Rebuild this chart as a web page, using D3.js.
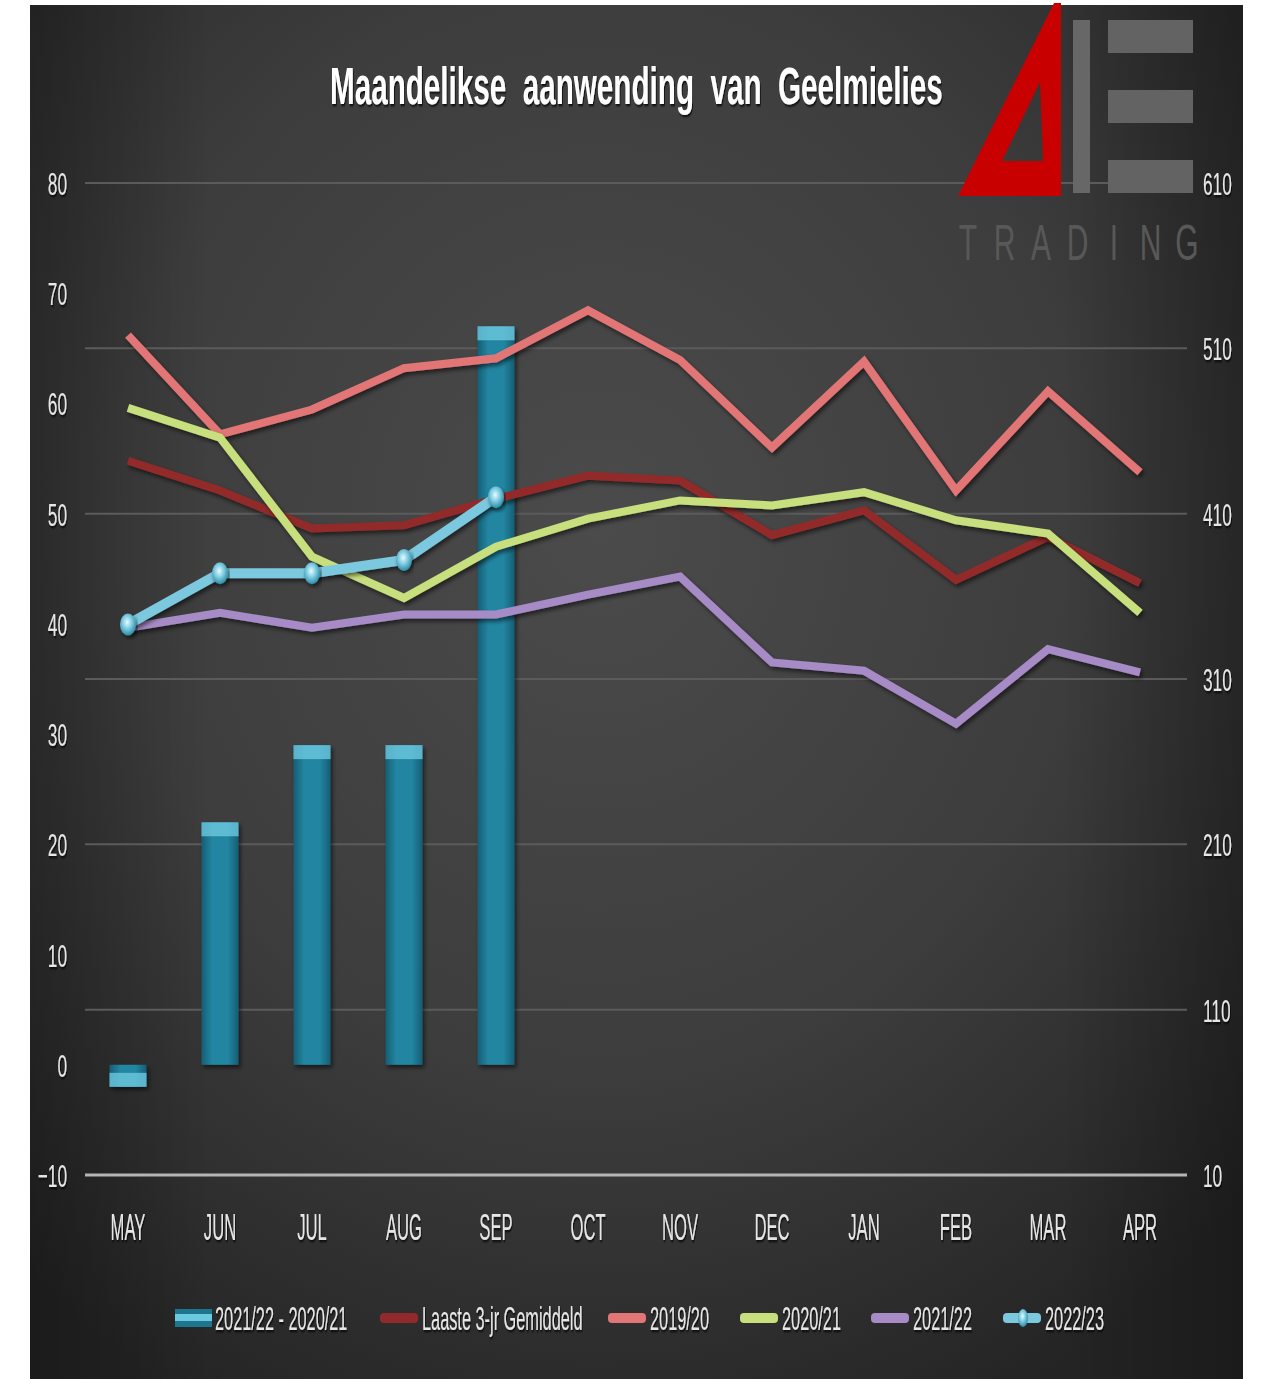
<!DOCTYPE html>
<html>
<head>
<meta charset="utf-8">
<script src="https://d3js.org/d3.v7.min.js"></script>
<style>
  body { margin: 0; background: #fff; }
  text { font-family: "Liberation Sans", Arial, sans-serif; }
</style>
</head>
<body>
<svg id="chart" width="1264" height="1379"></svg>
<script>
// months on the x axis
var months = ["MAY","JUN","JUL","AUG","SEP","OCT","NOV","DEC","JAN","FEB","MAR","APR"];

// bars, left axis
var diffLabel = "2021/22 - 2020/21";
var diffValues = [-2, 22, 29, 29, 67];

// lines, right axis
var avg3 = [442, 424, 401, 403, 419, 433, 430, 397, 412, 370, 396, 368];
var s1920 = [518, 458, 473, 498, 504, 533, 503, 450, 502, 424, 484, 435];
var s2021 = [474, 456, 384, 359, 390, 407, 418, 415, 423, 406, 398, 350];
var s2122 = [341, 350, 341, 349, 349, 361, 372, 320, 315, 283, 328, 314];
var s2223 = [343, 374, 374, 382, 420];

var leftTicks = [-10, 0, 10, 20, 30, 40, 50, 60, 70, 80];
var rightTicks = [10, 110, 210, 310, 410, 510, 610];

var series = [
  {name: "Laaste 3-jr Gemiddeld", values: avg3, color: "#922a2c"},
  {name: "2019/20", values: s1920, color: "#e27676"},
  {name: "2020/21", values: s2021, color: "#c8df7e"},
  {name: "2021/22", values: s2122, color: "#a78bc6"},
  {name: "2022/23", values: s2223, color: "#7cc8de", markers: true}
];

var svg = d3.select("#chart");
var defs = svg.append("defs");

var bg = defs.append("radialGradient").attr("id", "bg")
  .attr("cx", 0.47).attr("cy", 0.38).attr("r", 0.72);
bg.append("stop").attr("offset", 0).attr("stop-color", "#4b4b4b");
bg.append("stop").attr("offset", 0.55).attr("stop-color", "#3d3d3d");
bg.append("stop").attr("offset", 1).attr("stop-color", "#242424");

var bgH = defs.append("linearGradient").attr("id", "bgH");
bgH.append("stop").attr("offset", 0).attr("stop-color", "#000").attr("stop-opacity", 0.25);
bgH.append("stop").attr("offset", 0.15).attr("stop-color", "#000").attr("stop-opacity", 0);
bgH.append("stop").attr("offset", 0.85).attr("stop-color", "#000").attr("stop-opacity", 0);
bgH.append("stop").attr("offset", 1).attr("stop-color", "#000").attr("stop-opacity", 0.25);

var barGrad = defs.append("linearGradient").attr("id", "barGrad");
barGrad.append("stop").attr("offset", 0).attr("stop-color", "#155e74");
barGrad.append("stop").attr("offset", 0.3).attr("stop-color", "#2386a2");
barGrad.append("stop").attr("offset", 0.7).attr("stop-color", "#2386a2");
barGrad.append("stop").attr("offset", 1).attr("stop-color", "#155e74");

var ball = defs.append("radialGradient").attr("id", "ball")
  .attr("cx", 0.45).attr("cy", 0.4).attr("r", 0.6);
ball.append("stop").attr("offset", 0).attr("stop-color", "#e6fbff");
ball.append("stop").attr("offset", 0.5).attr("stop-color", "#7ccbe0");
ball.append("stop").attr("offset", 1).attr("stop-color", "#2f8aa5");

var sh = defs.append("filter").attr("id", "shadow").attr("x", -0.1).attr("y", -0.1).attr("width", 1.2).attr("height", 1.3);
sh.append("feDropShadow").attr("dx", 2).attr("dy", 3).attr("stdDeviation", 2)
  .attr("flood-color", "#000").attr("flood-opacity", 0.55);

var tsh = defs.append("filter").attr("id", "tshadow").attr("x", -0.1).attr("y", -0.2).attr("width", 1.2).attr("height", 1.5);
tsh.append("feDropShadow").attr("dx", 1.5).attr("dy", 2).attr("stdDeviation", 1)
  .attr("flood-color", "#000").attr("flood-opacity", 0.8);

// background panel
svg.append("rect").attr("x", 30).attr("y", 5).attr("width", 1213).attr("height", 1374).attr("fill", "url(#bg)");
svg.append("rect").attr("x", 30).attr("y", 5).attr("width", 1213).attr("height", 1374).attr("fill", "url(#bgH)");

// scales
var x = d3.scaleBand().domain(months).range([82, 1186]);
var yL = d3.scaleLinear().domain([-10, 80]).range([1175, 183]);
var yR = d3.scaleLinear().domain([10, 610]).range([1175, 183]);
var cx = function(m) { return x(m) + x.bandwidth() / 2; };

// gridlines
svg.append("g").selectAll("line")
  .data(rightTicks)
  .join("line")
    .attr("x1", 85).attr("x2", 1187)
    .attr("y1", d => yR(d)).attr("y2", d => yR(d))
    .attr("stroke", d => d === 10 ? "#b5b5b5" : "#5b5b5b")
    .attr("stroke-width", d => d === 10 ? 3 : 2);

// logo
var logo = svg.append("g");
logo.append("path")
  .attr("d", "M1054,3 L1061,3 L1061,196 L958,196 Z M1040,82 L1002,161 L1043,161 Z")
  .attr("fill", "#c80000").attr("fill-rule", "evenodd");
logo.append("rect").attr("x", 1073).attr("y", 20).attr("width", 17).attr("height", 173).attr("fill", "#676767");
logo.selectAll("rect.bar3").data([20, 90, 160]).join("rect").attr("class", "bar3")
  .attr("x", 1108).attr("y", d => d).attr("width", 85).attr("height", 33).attr("fill", "#636363");
logo.selectAll("text").data("TRADING".split("")).join("text")
  .attr("transform", (d, i) => "translate(" + (968 + i * 36.5) + ",260) scale(0.6,1)")
  .attr("text-anchor", "middle")
  .attr("font-size", 50)
  .attr("fill", "#585858")
  .text(d => d);

// bars
var bars = svg.append("g").attr("filter", "url(#shadow)");
var bw = 37;
bars.selectAll("rect.body")
  .data(diffValues)
  .join("rect").attr("class", "body")
    .attr("x", (d, i) => cx(months[i]) - bw / 2)
    .attr("y", d => Math.min(yL(d), yL(0)))
    .attr("width", bw)
    .attr("height", d => Math.abs(yL(d) - yL(0)))
    .attr("fill", "url(#barGrad)");
bars.selectAll("rect.cap")
  .data(diffValues)
  .join("rect").attr("class", "cap")
    .attr("x", (d, i) => cx(months[i]) - bw / 2)
    .attr("y", d => d >= 0 ? yL(d) : yL(d) - 14)
    .attr("width", bw)
    .attr("height", 14)
    .attr("fill", "#6cc8df")
    .attr("opacity", 0.8);

// lines
var line = d3.line()
  .x((d, i) => cx(months[i]))
  .y(d => yR(d));

var lines = svg.append("g");
series.forEach(function(s) {
  lines.append("path")
    .datum(s.values)
    .attr("d", line)
    .attr("fill", "none")
    .attr("stroke", s.color)
    .attr("stroke-width", s.markers ? 10 : 8)
    .attr("stroke-linejoin", "miter")
    .attr("filter", "url(#shadow)");
  if (s.markers) {
    lines.append("g").selectAll("ellipse")
      .data(s.values)
      .join("ellipse")
        .attr("cx", (d, i) => cx(months[i]))
        .attr("cy", d => yR(d))
        .attr("rx", 8).attr("ry", 11)
        .attr("fill", "url(#ball)")
        .attr("filter", "url(#shadow)");
  }
});

// axes
var axL = svg.append("g").attr("transform", "translate(67,0)")
  .call(d3.axisLeft(yL).tickValues(leftTicks).tickSize(0).tickPadding(0));
var axR = svg.append("g").attr("transform", "translate(1203,0)")
  .call(d3.axisRight(yR).tickValues(rightTicks).tickSize(0).tickPadding(0));
var axB = svg.append("g").attr("transform", "translate(0,1175)")
  .call(d3.axisBottom(x).tickSize(0).tickPadding(0));

[axL, axR, axB].forEach(function(a) {
  a.select(".domain").remove();
  a.selectAll("text")
    .attr("fill", "#e6e6e6")
    .attr("font-family", "'Liberation Sans', Arial, sans-serif")
    .attr("filter", "url(#tshadow)");
});
axL.selectAll("text").attr("font-size", 32).attr("x", 0).attr("dy", "0.36em").attr("transform", "scale(0.54,1)");
axR.selectAll("text").attr("font-size", 32).attr("x", 0).attr("dy", "0.36em").attr("transform", "scale(0.54,1)");
axB.selectAll("text").attr("font-size", 37).attr("y", 65).attr("dy", 0).attr("transform", "scale(0.45,1)");

// title, squeezed to the reference width
var title = svg.append("text")
  .attr("font-size", 52)
  .attr("font-weight", "bold")
  .attr("fill", "#ffffff")
  .style("white-space", "pre")
  .attr("filter", "url(#tshadow)")
  .text("Maandelikse  aanwending  van  Geelmielies");
var tw = title.node().getComputedTextLength();
title.attr("transform", "translate(330,104) scale(" + (613 / tw) + ",1)");

// legend
var legendItems = [{name: diffLabel, type: "bar"}].concat(series.map(s => ({name: s.name, type: "line", color: s.color, markers: s.markers})));
var legendX = [175, 380, 608, 740, 871, 1003];
var lg = svg.append("g").selectAll("g")
  .data(legendItems)
  .join("g")
    .attr("transform", (d, i) => "translate(" + legendX[i] + ",1318)");
lg.each(function(d) {
  var g = d3.select(this);
  if (d.type === "bar") {
    g.append("rect").attr("x", 0).attr("y", -9).attr("width", 37).attr("height", 18).attr("fill", "#1d7590");
    g.append("rect").attr("x", 0).attr("y", -4).attr("width", 37).attr("height", 7).attr("fill", "#6cc8df");
  } else {
    g.append("rect").attr("x", 0).attr("y", -5).attr("width", 38).attr("height", 10).attr("rx", 4)
      .attr("fill", d.color);
    if (d.markers) {
      g.append("ellipse").attr("cx", 20).attr("cy", 0).attr("rx", 5).attr("ry", 9).attr("fill", "url(#ball)");
    }
  }
  g.append("text")
    .attr("transform", "translate(" + (d.type === "bar" ? 40 : 42) + ",12) scale(0.48,1)")
    .attr("font-size", 34)
    .attr("fill", "#e6e6e6")
    .attr("filter", "url(#tshadow)")
    .text(d.name);
});
</script>
</body>
</html>
